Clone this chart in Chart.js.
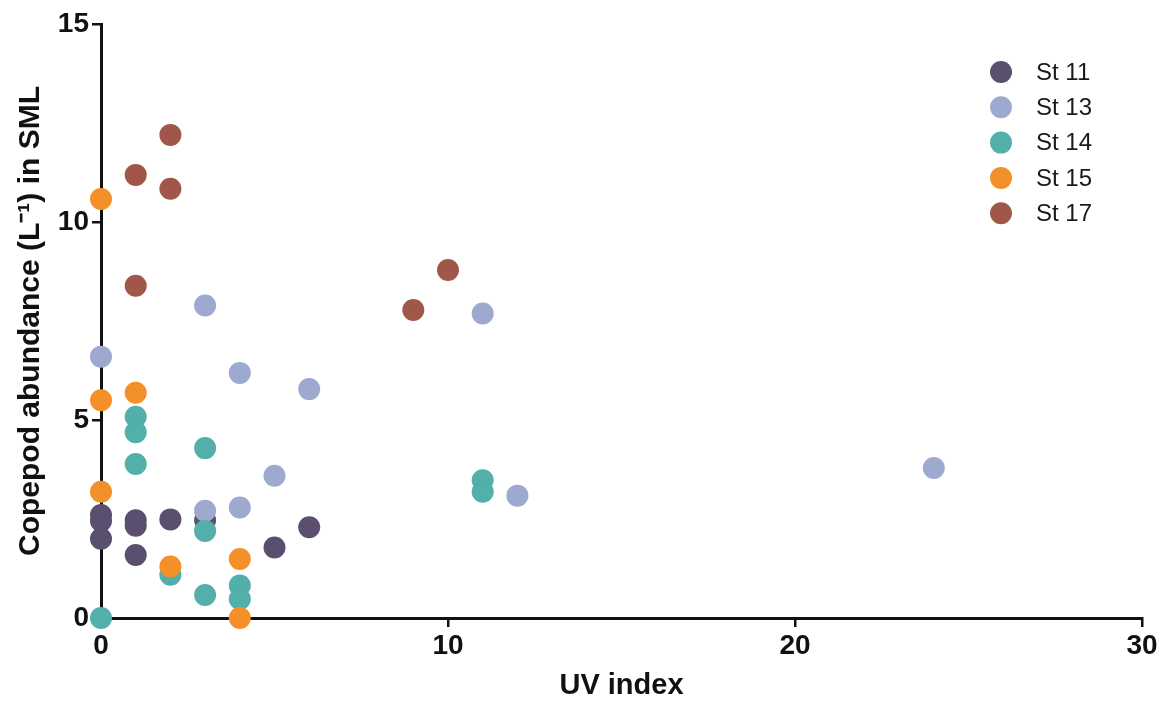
<!DOCTYPE html>
<html><head><meta charset="utf-8">
<script src="https://cdn.jsdelivr.net/npm/chart.js@4/dist/chart.umd.min.js"></script>
<style>html,body{margin:0;padding:0;background:#fff}#wrap{width:1164px;height:702px}</style>
</head><body><div id="wrap"><canvas id="c" width="1164" height="702"></canvas></div>
<script>
const seriesNames = ['St 11', 'St 13', 'St 14', 'St 15', 'St 17'];
const seriesColors = ['#5b4f6f', '#9ea9cf', '#52afa9', '#f3902a', '#a0574a'];
const st11X = [0, 0, 0, 1, 1, 1, 2, 3, 5, 6];
const st11Y = [2.6, 2.45, 2.0, 2.47, 2.33, 1.59, 2.49, 2.47, 1.78, 2.29];
const st13X = [0, 3, 4, 6, 11, 5, 3, 4, 12, 24];
const st13Y = [6.6, 7.89, 6.19, 5.78, 7.69, 3.59, 2.71, 2.79, 3.09, 3.79];
const st14X = [0, 1, 1, 1, 3, 3, 2, 3, 4, 4, 11, 11];
const st14Y = [0, 5.08, 4.69, 3.89, 4.29, 2.2, 1.09, 0.58, 0.82, 0.48, 3.48, 3.19];
const st15X = [0, 0, 1, 0, 2, 4, 4];
const st15Y = [10.58, 5.5, 5.69, 3.19, 1.3, 1.49, 0];
const st17X = [2, 1, 2, 1, 9, 10];
const st17Y = [12.2, 11.19, 10.84, 8.39, 7.78, 8.79];
const xTicks = [0, 10, 20, 30];
const yTicks = [0, 5, 10, 15];
const xTitle = 'UV index';
const yTitle = 'Copepod abundance (L\u207B\u00B9) in SML';

const seriesX = [st11X, st13X, st14X, st15X, st17X];
const seriesY = [st11Y, st13Y, st14Y, st15Y, st17Y];

const FAMILY = "Arial, 'Liberation Sans', Helvetica, sans-serif";

// first dataset is drawn on top in Chart.js, so build in reverse order
const datasets = seriesNames.map((name, i) => ({
  label: name,
  data: seriesX[i].map((x, j) => ({x: x, y: seriesY[i][j]})),
  backgroundColor: seriesColors[i],
  borderWidth: 0,
  pointRadius: 11,
  pointHoverRadius: 11,
  clip: false
})).reverse();

const insideLegend = {
  id: 'insideLegend',
  afterDraw(chart) {
    const ctx = chart.ctx;
    const a = chart.chartArea;
    ctx.save();
    seriesNames.forEach((name, i) => {
      const cy = 72 + i * 35.3;
      const cx = a.right - 141;
      ctx.beginPath();
      ctx.arc(cx, cy, 11, 0, Math.PI * 2);
      ctx.fillStyle = seriesColors[i];
      ctx.fill();
      ctx.fillStyle = '#1a1a1a';
      ctx.font = '24px ' + FAMILY;
      ctx.textAlign = 'left';
      ctx.textBaseline = 'middle';
      ctx.fillText(name, cx + 35, cy + 1);
    });
    ctx.restore();
  }
};

const tickFont = {family: FAMILY, size: 28, weight: 'bold'};

new Chart(document.getElementById('c'), {
  type: 'scatter',
  data: {datasets: datasets},
  plugins: [insideLegend],
  options: {
    responsive: false,
    animation: false,
    devicePixelRatio: 1,
    events: [],
    layout: {padding: {top: 24, right: 22, left: 0, bottom: 0}},
    plugins: {legend: {display: false}, tooltip: {enabled: false}},
    scales: {
      x: {
        type: 'linear',
        min: xTicks[0],
        max: xTicks[xTicks.length - 1],
        afterBuildTicks: s => { s.ticks = xTicks.map(v => ({value: v})); },
        afterFit: s => { s.height = 84; },
        border: {display: true, color: '#111', width: 3},
        grid: {display: true, drawOnChartArea: false, drawTicks: true, tickLength: 9, color: '#111', lineWidth: 2.5},
        ticks: {color: '#111', font: tickFont, padding: 2, maxRotation: 0},
        title: {display: true, text: xTitle, color: '#111',
          font: {family: FAMILY, size: 29, weight: 'bold', lineHeight: 1.1},
          padding: {top: 0, bottom: 0}}
      },
      y: {
        type: 'linear',
        min: yTicks[0],
        max: yTicks[yTicks.length - 1],
        afterBuildTicks: s => { s.ticks = yTicks.map(v => ({value: v})); },
        afterFit: s => { s.width = 101; },
        border: {display: true, color: '#111', width: 3},
        grid: {display: true, drawOnChartArea: false, drawTicks: true, tickLength: 9, color: '#111', lineWidth: 2.5},
        ticks: {color: '#111', font: tickFont, padding: 3},
        title: {display: true, text: yTitle, color: '#111',
          font: {family: FAMILY, size: 30, weight: 'bold', lineHeight: 1.2},
          padding: {top: 13, bottom: 0}}
      }
    }
  }
});
</script></body></html>
